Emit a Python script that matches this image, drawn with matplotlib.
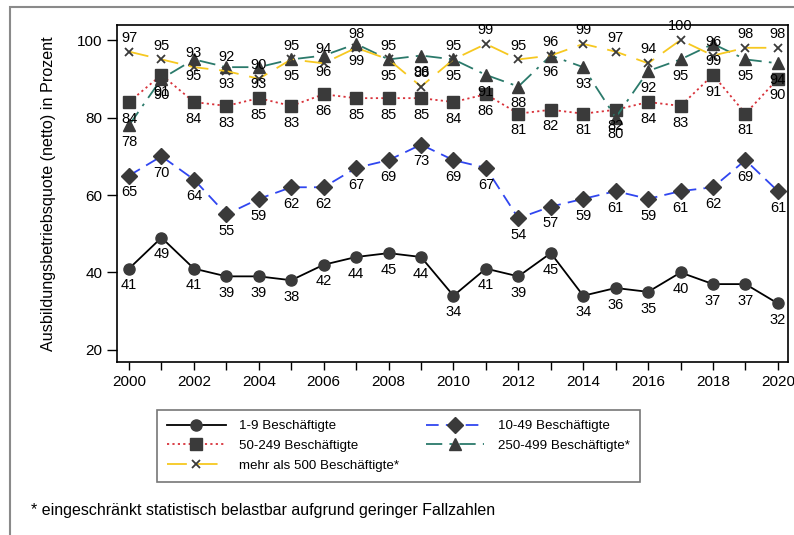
import matplotlib
matplotlib.use("Agg")
import matplotlib.pyplot as plt
from matplotlib.patches import Rectangle

years = list(range(2000, 2021))

q_1_9 = [41, 49, 41, 39, 39, 38, 42, 44, 45, 44, 34, 41, 39, 45, 34, 36, 35, 40, 37, 37, 32]
q_10_49 = [65, 70, 64, 55, 59, 62, 62, 67, 69, 73, 69, 67, 54, 57, 59, 61, 59, 61, 62, 69, 61]
q_50_249 = [84, 91, 84, 83, 85, 83, 86, 85, 85, 85, 84, 86, 81, 82, 81, 82, 84, 83, 91, 81, 90]
q_250_499 = [78, 90, 95, 93, 93, 95, 96, 99, 95, 96, 95, 91, 88, 96, 93, 80, 92, 95, 99, 95, 94]
q_500 = [97, 95, 93, 92, 90, 95, 94, 98, 95, 88, 95, 99, 95, 96, 99, 97, 94, 100, 96, 98, 98]

plt.rcParams["font.family"] = ["Liberation Sans", "DejaVu Sans"]

mcol = "#3a3a3a"
series = [
    # (values, label, color, linestyle, marker, markersize, label offset)
    (q_1_9, "1-9 Beschäftigte", "black", "-", "o", 8, -12),
    (q_10_49, "10-49 Beschäftigte", "#3046f0", (0, (7, 4)), "D", 8, -12),
    (q_50_249, "50-249 Beschäftigte", "#d8323a", (0, (1.2, 1.8)), "s", 8, -12),
    (q_250_499, "250-499 Beschäftigte*", "#2b7a6b", (0, (9, 4, 1.5, 4)), "^", 9, -12),
    (q_500, "mehr als 500 Beschäftigte*", "#f6c820", (0, (11, 6)), "x", 6, 10),
]

fig = plt.figure(figsize=(7.94, 5.35), dpi=100)
ax = fig.add_axes([0.1474, 0.3234, 0.845, 0.63])

handles = []
for vals, lab, col, ls, mk, ms, off in series:
    if mk == "x":
        h, = ax.plot(years, vals, color=col, linestyle=ls, lw=1.3, marker=mk,
                     markersize=ms, markeredgecolor=mcol, markeredgewidth=1.3, label=lab)
    else:
        h, = ax.plot(years, vals, color=col, linestyle=ls, lw=1.3, marker=mk,
                     markersize=ms, markerfacecolor=mcol, markeredgecolor=mcol, label=lab)
    handles.append(h)
    for x, y in zip(years, vals):
        ax.annotate(str(y), (x, y), xytext=(0, off), textcoords="offset points",
                    ha="center", va="center", fontsize=10.5, color="black")

ax.set_xlim(1999.63, 2020.31)
ax.set_ylim(16.9, 103.9)
ax.set_xticks(range(2000, 2021, 2))
ax.set_xticks(range(2001, 2021, 2), minor=True)
ax.set_yticks(range(20, 101, 20))
ax.tick_params(axis="both", which="both", length=6, width=1, labelsize=11, colors="black")
ax.tick_params(axis="y", length=7)
for sp in ax.spines.values():
    sp.set_linewidth(1.2)
ax.set_ylabel("Ausbildungsbetriebsquote (netto) in Prozent", fontsize=11.6, labelpad=15)

order = [0, 2, 4, 1, 3]
leg = fig.legend([handles[i] for i in order], [handles[i].get_label() for i in order],
                 ncol=2, loc="upper left", bbox_to_anchor=(157 / 794, 1 - 410 / 535),
                 borderaxespad=0, fontsize=9.6, frameon=True, fancybox=False,
                 edgecolor="#555555", handlelength=4.4, handletextpad=1.0,
                 columnspacing=2.0, labelspacing=0.55, borderpad=0.75)
leg.get_frame().set_linewidth(1.2)

fig.text(31 / 794, 1 - 510 / 535, "* eingeschränkt statistisch belastbar aufgrund geringer Fallzahlen",
         fontsize=11.5, va="center", ha="left")

fig.patches.append(Rectangle((10 / 794, -0.1), 1.2, 1.1 - 7 / 535, transform=fig.transFigure,
                             fill=False, edgecolor="#8a8a8a", lw=1.5))

fig.savefig("out.png", dpi=100)
